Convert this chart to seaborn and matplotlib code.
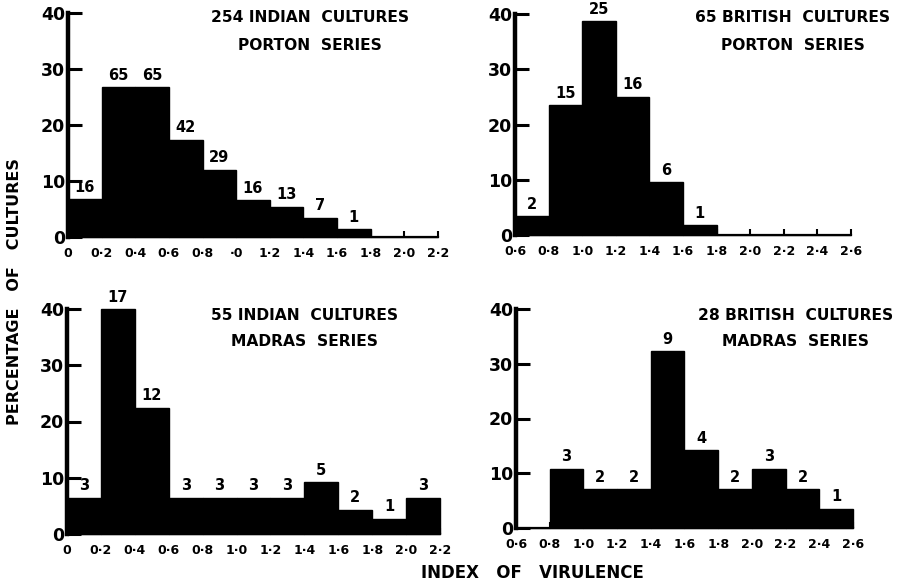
import numpy as np
import pandas as pd
import matplotlib
matplotlib.use("Agg")
import matplotlib.pyplot as plt
import seaborn as sns

# ---------------- data ----------------
# bin edges (index of virulence)
edges_indian = [0.0, 0.2, 0.4, 0.6, 0.8, 1.0, 1.2, 1.4, 1.6, 1.8, 2.0, 2.2]
edges_british = [0.6, 0.8, 1.0, 1.2, 1.4, 1.6, 1.8, 2.0, 2.2, 2.4, 2.6]

# percentage of cultures (bar heights) and number of cultures (bar labels)
pct_indian_porton = [6.7, 26.7, 26.7, 17.4, 12.0, 6.6, 5.4, 3.4, 1.4, 0, 0]
n_indian_porton = ["16", "65", "65", "42", "29", "16", "13", "7", "1", "", ""]

pct_british_porton = [3.4, 23.5, 38.7, 25.0, 9.6, 1.8, 0, 0, 0, 0]
n_british_porton = ["2", "15", "25", "16", "6", "1", "", "", "", ""]

pct_indian_madras = [6.4, 40.0, 22.4, 6.4, 6.4, 6.4, 6.4, 9.2, 4.3, 2.7, 6.4]
n_indian_madras = ["3", "17", "12", "3", "3", "3", "3", "5", "2", "1", "3"]

pct_british_madras = [0, 10.8, 7.1, 7.1, 32.3, 14.2, 7.1, 10.8, 7.1, 3.5]
n_british_madras = ["", "3", "2", "2", "9", "4", "2", "3", "2", "1"]

xt_indian_porton = ["0", "0·2", "0·4", "0·6", "0·8", "·0", "1·2", "1·4", "1·6", "1·8", "2·0", "2·2"]
xt_indian_madras = ["0", "0·2", "0·4", "0·6", "0·8", "1·0", "1·2", "1·4", "1·6", "1·8", "2·0", "2·2"]
xt_british = ["0·6", "0·8", "1·0", "1·2", "1·4", "1·6", "1·8", "2·0", "2·2", "2·4", "2·6"]
yticks = [0, 10, 20, 30, 40]

titles = [
    ("254 INDIAN  CULTURES", "PORTON  SERIES"),
    ("65 BRITISH  CULTURES", "PORTON  SERIES"),
    ("55 INDIAN  CULTURES", "MADRAS  SERIES"),
    ("28 BRITISH  CULTURES", "MADRAS  SERIES"),
]

# ---------------- figure ----------------
sns.set_theme(style="white")
plt.rcParams["font.family"] = ["DejaVu Sans"]
plt.rcParams["font.weight"] = "bold"
plt.rcParams["text.color"] = "black"
plt.rcParams["axes.labelcolor"] = "black"
plt.rcParams["xtick.color"] = "black"
plt.rcParams["ytick.color"] = "black"

W, H = 903, 584
fig = plt.figure(figsize=(W / 100, H / 100), dpi=100)
fig.patch.set_facecolor("white")


def ax_at(x0, x1, y0, y40):
    return fig.add_axes([x0 / W, 1 - y0 / H, (x1 - x0) / W, (y0 - y40) / H])


panels = [
    (ax_at(68, 438, 237, 13), edges_indian, pct_indian_porton, n_indian_porton, xt_indian_porton),
    (ax_at(515, 851, 235, 14), edges_british, pct_british_porton, n_british_porton, xt_british),
    (ax_at(67, 440, 534, 309), edges_indian, pct_indian_madras, n_indian_madras, xt_indian_madras),
    (ax_at(516, 853, 528, 309), edges_british, pct_british_madras, n_british_madras, xt_british),
]

for ax, edges, pct, labels, xtl in panels:
    centers = [(a + b) / 2 for a, b in zip(edges[:-1], edges[1:])]
    df = pd.DataFrame({"x": centers, "w": pct})
    sns.histplot(data=df, x="x", weights="w", bins=edges, stat="count",
                 color="black", edgecolor="black", linewidth=1.0, alpha=1.0,
                 element="bars", ax=ax, legend=False)
    for p in ax.patches:
        p.set_clip_on(False)
    for c, h, lab in zip(centers, pct, labels):
        if lab:
            ax.text(c, h + 0.8, lab, ha="center", va="bottom", fontsize=10.5,
                    fontweight="bold", color="black")
    ax.set_xlim(edges[0], edges[-1])
    ax.set_ylim(0, 40)
    ax.set_xticks(edges)
    ax.set_xticklabels(xtl)
    ax.set_yticks(yticks)
    ax.set_yticklabels([str(v) for v in yticks])
    ax.set_xlabel("")
    ax.set_ylabel("")
    ax.set_facecolor("white")
    for s in ["top", "right"]:
        ax.spines[s].set_visible(False)
    ax.spines["left"].set_linewidth(3.2)
    ax.spines["left"].set_color("black")
    ax.spines["bottom"].set_linewidth(1.6)
    ax.spines["bottom"].set_color("black")
    ax.tick_params(axis="y", direction="in", length=10, width=2.2, color="black",
                   labelcolor="black", labelsize=12.5, pad=2, left=True)
    ax.tick_params(axis="x", direction="in", length=4, width=1.5, color="black",
                   labelcolor="black", labelsize=9, pad=7, bottom=True)
    for t in ax.get_xticklabels() + ax.get_yticklabels():
        t.set_fontweight("bold")
    ax.grid(False)

# titles
title_pos = [(310, 18, 45), (793, 17, 45), (305, 315, 341), (796, 315, 341)]
for (t1, t2), (cx, y1, y2) in zip(titles, title_pos):
    fig.text(cx / W, 1 - y1 / H, t1, ha="center", va="center", fontsize=11.2, fontweight="bold")
    fig.text(cx / W, 1 - y2 / H, t2, ha="center", va="center", fontsize=11.2, fontweight="bold")

fig.text(15 / W, 1 - 292 / H, "PERCENTAGE   OF   CULTURES", rotation=90,
         ha="center", va="center", fontsize=11.5, fontweight="bold")
fig.text(532 / W, 1 - 573 / H, "INDEX   OF   VIRULENCE", ha="center", va="center",
         fontsize=12, fontweight="bold")

fig.savefig("out.png", dpi=100, facecolor="white")
